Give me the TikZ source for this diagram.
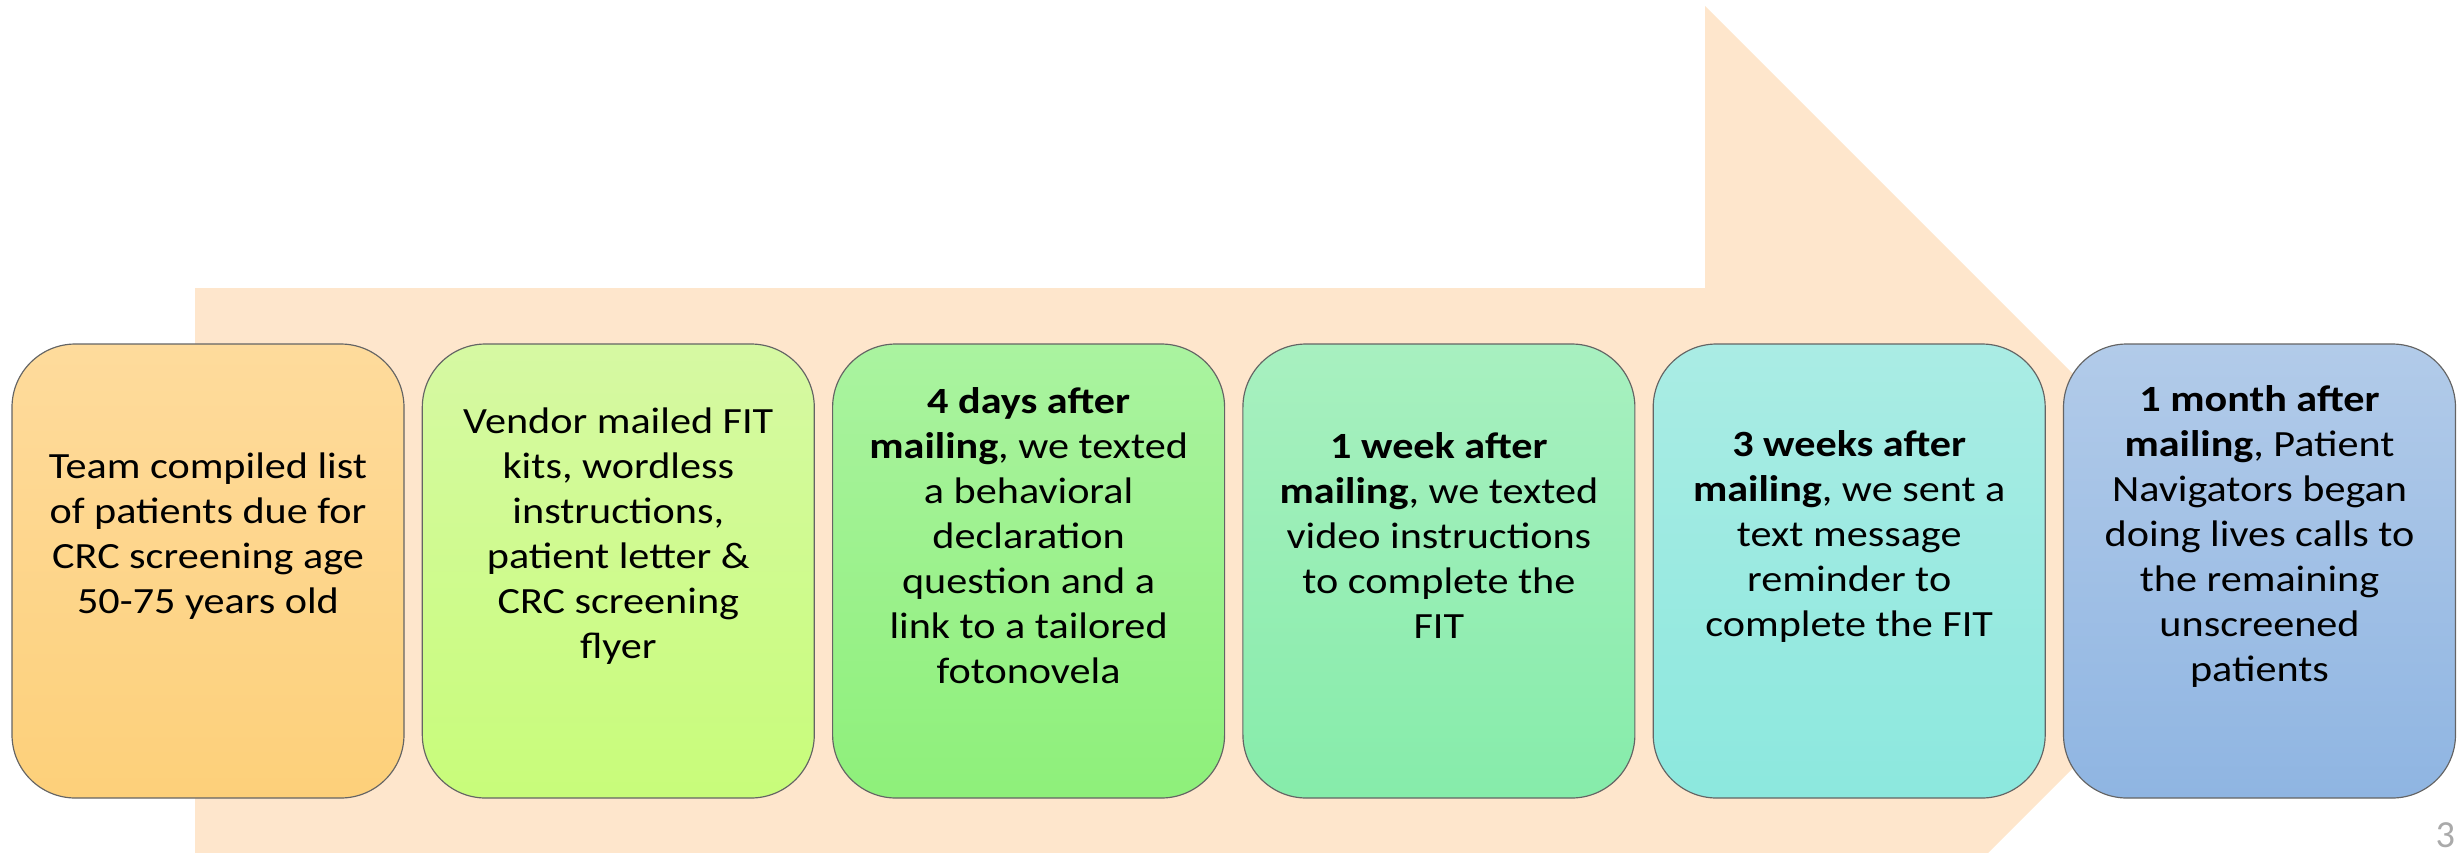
\documentclass[tikz,border=0pt]{standalone}
\usepackage{fontspec}
\setmainfont{Carlito}[FakeStretch=1.14]
\newfontfamily\pagefont{Carlito}
\definecolor{arrowfill}{RGB}{254,230,204}
\definecolor{bordc}{RGB}{100,100,100}
\definecolor{aT}{RGB}{254,219,156}\definecolor{aB}{RGB}{253,208,122}
\definecolor{bT}{RGB}{214,249,163}\definecolor{bB}{RGB}{200,252,122}
\definecolor{cT}{RGB}{170,243,160}\definecolor{cB}{RGB}{142,240,122}
\definecolor{dT}{RGB}{168,240,192}\definecolor{dB}{RGB}{134,236,170}
\definecolor{eT}{RGB}{170,236,228}\definecolor{eB}{RGB}{140,232,222}
\definecolor{fT}{RGB}{178,203,233}\definecolor{fB}{RGB}{143,181,226}
\definecolor{pagegray}{RGB}{170,170,170}
\begin{document}
\begin{tikzpicture}[x=0.3pt,y=-0.3pt,
  stepbox/.style={rounded corners=19pt, draw=bordc, line width=0.35pt,
    minimum width=117.6pt, minimum height=136.2pt, inner sep=0pt},
  steptext/.style={align=center, inner sep=0pt,
    font=\fontsize{11.1pt}{13.5pt}\selectfont}]
\useasboundingbox (0,0) rectangle (2463,852);
\clip (0,0) rectangle (2463,852);
% big background arrow
\fill[arrowfill] (195,288) -- (1705,288) -- (1705,6) -- (2270,571)
  -- (1705,1136) -- (1705,855) -- (195,855) -- cycle;
% boxes
\node[stepbox, top color=aT, bottom color=aB] (b1) at (208,571) {};
\node[stepbox, top color=bT, bottom color=bB] (b2) at (618.3,571) {};
\node[stepbox, top color=cT, bottom color=cB] (b3) at (1028.6,571) {};
\node[stepbox, top color=dT, bottom color=dB] (b4) at (1438.9,571) {};
\node[stepbox, top color=eT, bottom color=eB] (b5) at (1849.2,571) {};
\node[stepbox, top color=fT, bottom color=fB] (b6) at (2259.5,571) {};
% texts
\node[steptext] (t1) at ([yshift=10.5pt]b1.center)
  {Team compiled list\\of patients due for\\CRC screening age\\50-75 years old};
\node[steptext] (t2) at ([yshift=10.5pt]b2.center)
  {Vendor mailed FIT\\kits, wordless\\instructions,\\patient letter \&\\CRC screening\\flyer};
\node[steptext] (t3) at ([yshift=10.5pt]b3.center)
  {\textbf{4 days after}\\\textbf{mailing}, we texted\\a behavioral\\declaration\\question and a\\link to a tailored\\fotonovela};
\node[steptext] (t4) at ([yshift=10.5pt]b4.center)
  {\textbf{1 week after}\\\textbf{mailing}, we texted\\video instructions\\to complete the\\FIT};
\node[steptext] (t5) at ([yshift=10.5pt]b5.center)
  {\textbf{3 weeks after}\\\textbf{mailing}, we sent a\\text message\\reminder to\\complete the FIT};
\node[steptext] (t6) at ([yshift=10.5pt]b6.center)
  {\textbf{1 month after}\\\textbf{mailing}, Patient\\Navigators began\\doing lives calls to\\the remaining\\unscreened\\patients};
% page number
\node[anchor=base west, inner sep=0pt, text=pagegray,
  font=\pagefont\fontsize{11.5pt}{13pt}\selectfont] (pg) at (2435,847) {3};
\end{tikzpicture}
\end{document}
